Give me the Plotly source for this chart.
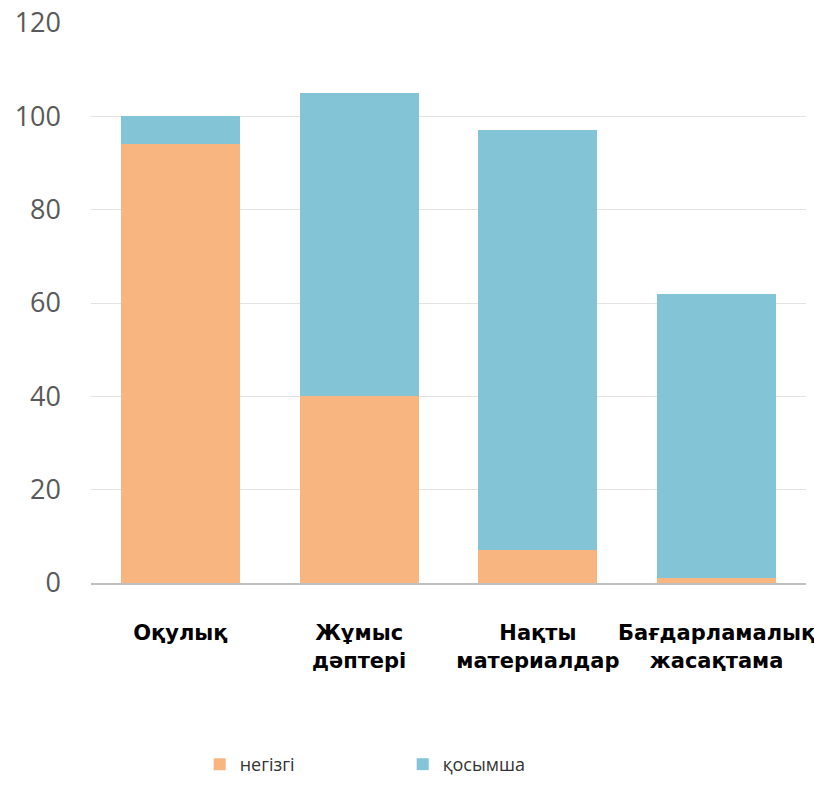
import plotly.graph_objects as go

categories = ["Оқулық", "Жұмыс<br>дәптері", "Нақты<br>материалдар", "Бағдарламалық<br>жасақтама"]
negizgi = [94, 40, 7, 1]
kosymsha = [6, 65, 90, 61]
series_names = ["негізгі", "қосымша"]
y_ticks = [0, 20, 40, 60, 80, 100, 120]

fig = go.Figure()
fig.add_trace(go.Bar(x=categories, y=negizgi, name=series_names[0],
                     marker=dict(color="#F8B580", line=dict(width=0))))
fig.add_trace(go.Bar(x=categories, y=kosymsha, name=series_names[1],
                     marker=dict(color="#83C4D6", line=dict(width=0))))

fig.update_layout(
    barmode="stack",
    bargap=0.335,
    width=814, height=791,
    margin=dict(l=91, r=8, t=23, b=206),
    plot_bgcolor="white", paper_bgcolor="white",
    showlegend=True,
    legend=dict(orientation="h", x=0.152, xanchor="left", y=-0.324, yanchor="middle",
                font=dict(family="Open Sans", size=18, color="#333333"),
                entrywidth=158, entrywidthmode="pixels", traceorder="normal"),
    xaxis=dict(tickfont=dict(family="DejaVu Sans", size=21, color="black", weight="bold"),
               showline=True, linecolor="#c0c0c0", linewidth=2, ticks="", tickangle=0,
               ticklabelstandoff=30, fixedrange=True, automargin=False),
    yaxis=dict(range=[0, 120], tickvals=y_ticks, showgrid=True, gridcolor="#e3e3e3", gridwidth=1,
               zeroline=False, showline=False, automargin=False,
               tickfont=dict(family="Open Sans", size=27, color="#595959"),
               ticklabelstandoff=29),
)
fig.write_html("out.html")
